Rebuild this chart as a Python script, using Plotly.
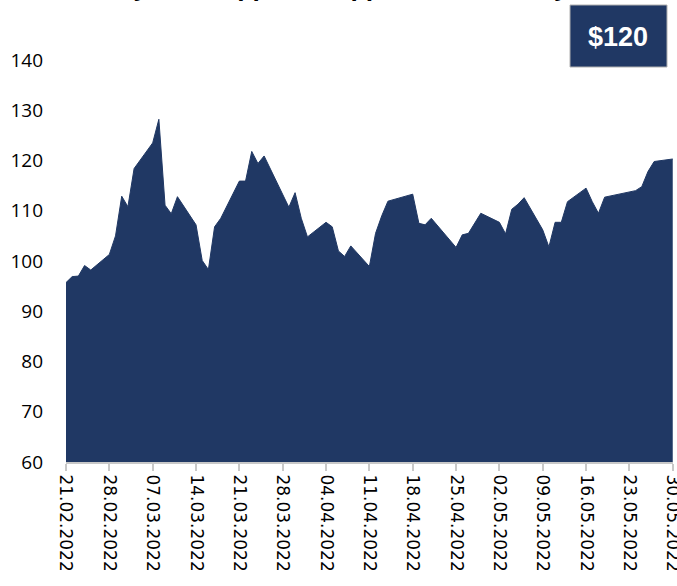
import plotly.graph_objects as go

# trading days (vertices)
dates = ["2022-02-21", "2022-02-22", "2022-02-23", "2022-02-24", "2022-02-25",
         "2022-02-28", "2022-03-01", "2022-03-02", "2022-03-03", "2022-03-04",
         "2022-03-07", "2022-03-08", "2022-03-09", "2022-03-10", "2022-03-11",
         "2022-03-14", "2022-03-15", "2022-03-16", "2022-03-17", "2022-03-18",
         "2022-03-21", "2022-03-22", "2022-03-23", "2022-03-24", "2022-03-25",
         "2022-03-29", "2022-03-30", "2022-03-31", "2022-04-01",
         "2022-04-04", "2022-04-05", "2022-04-06", "2022-04-07", "2022-04-08",
         "2022-04-11", "2022-04-12", "2022-04-13", "2022-04-14",
         "2022-04-18", "2022-04-19", "2022-04-20", "2022-04-21",
         "2022-04-25", "2022-04-26", "2022-04-27", "2022-04-29",
         "2022-05-02", "2022-05-03", "2022-05-04", "2022-05-05", "2022-05-06",
         "2022-05-09", "2022-05-10", "2022-05-11", "2022-05-12", "2022-05-13",
         "2022-05-16", "2022-05-17", "2022-05-18", "2022-05-19",
         "2022-05-24", "2022-05-25", "2022-05-26", "2022-05-27",
         "2022-05-30"]
prices = [95.7, 96.9, 97.0, 99.1, 98.2,
          101.3, 105.0, 112.9, 110.8, 118.4,
          123.5, 128.2, 111.1, 109.4, 112.8,
          107.2, 100.1, 98.3, 106.8, 108.5,
          115.9, 115.9, 121.8, 119.4, 120.9,
          110.7, 113.6, 108.5, 104.8,
          107.7, 106.8, 102.0, 100.9, 103.0,
          98.9, 105.5, 109.0, 111.9,
          113.3, 107.5, 107.2, 108.5,
          102.7, 105.2, 105.5, 109.5,
          107.7, 105.4, 110.3, 111.3, 112.6,
          106.2, 102.8, 107.7, 107.7, 111.8,
          114.5, 111.8, 109.5, 112.7,
          114.0, 114.8, 117.8, 119.8,
          120.3]

y_ticks = [60, 70, 80, 90, 100, 110, 120, 130, 140]
title_text = "Daily close Apple vs. Apple Stock History"
badge_text = "$120"

navy = "#203864"

fig = go.Figure(go.Scatter(
    x=dates, y=prices, mode="lines", fill="tozeroy",
    fillcolor=navy, line=dict(color=navy, width=1),
))

fig.update_layout(
    width=677, height=586,
    margin=dict(l=66, r=4, t=60, b=124, autoexpand=False),
    paper_bgcolor="white", plot_bgcolor="white",
    showlegend=False,
)

fig.update_xaxes(
    type="date", automargin=False,
    range=["2022-02-21", "2022-05-30 01:00"],
    tick0="2022-02-21", dtick=7 * 86400000,
    tickformat="%d.%m.%Y", tickangle=90,
    ticklabeloverflow="allow",
    ticks="outside", ticklen=7, tickwidth=2, tickcolor="#C8C8C8",
    showline=True, linecolor="#C8C8C8", linewidth=2,
    showgrid=False, zeroline=False,
    tickfont=dict(family="DejaVu Sans", size=17, color="#000000"),
)

fig.update_yaxes(
    range=[60, 140], tickvals=y_ticks, automargin=False,
    showgrid=False, zeroline=False, showline=False,
    ticklabelstandoff=22,
    tickfont=dict(family="Open Sans", size=19, color="#000000"),
)

# title, mostly cut off by the top of the page
fig.add_annotation(
    text="<b>" + title_text + "</b>", xref="paper", yref="paper",
    x=0.43, y=1.0 + 56 / 402, xanchor="center", yanchor="bottom",
    showarrow=False, font=dict(family="Open Sans", size=24, color="#000000"),
)

# price badge
fig.add_shape(type="rect", xref="paper", yref="paper",
              x0=(570 - 66) / 607, x1=(667 - 66) / 607,
              y0=1.0 + (60 - 67) / 402, y1=1.0 + (60 - 5) / 402,
              fillcolor=navy, line=dict(color="#B0B0B0", width=1))
fig.add_annotation(
    text="<b>" + badge_text + "</b>", xref="paper", yref="paper",
    x=(618 - 66) / 607, y=1.0 + (60 - 37) / 402,
    xanchor="center", yanchor="middle", showarrow=False,
    font=dict(family="Liberation Sans", size=27, color="white"),
)

# drop the default page margin so the figure sits at the window's corner
fig.write_html("out.html",
               config={"displayModeBar": False},
               post_script="document.body.style.margin='0';"
                           "document.body.style.overflow='hidden';")
